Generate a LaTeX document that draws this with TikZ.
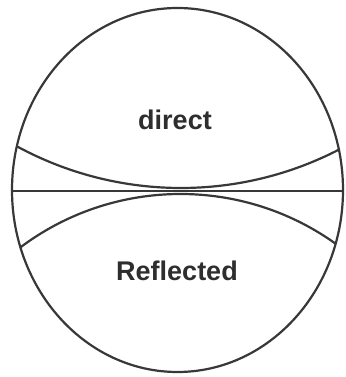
\documentclass[tikz,border=0pt]{standalone}
\usepackage{fontspec}
\setmainfont{Liberation Sans}
\begin{document}
\begin{tikzpicture}[x=1pt,y=1pt,
  ink/.style={draw=black!78,line width=2.2pt},
  lbl/.style={font=\fontsize{27}{30}\selectfont\bfseries,text=black!82,inner sep=0pt}]
\useasboundingbox (0,0) rectangle (345,377);
\fill[white] (0,0) rectangle (345,377);
\coordinate (C) at (177.5,187);
\begin{scope}
  \clip (C) ellipse [x radius=165.5, y radius=182];
  % upper curve
  \draw[ink] (181,533) ++(236:344) arc[start angle=236,end angle=304,radius=344];
  % lower curve
  \draw[ink] (180.5,-83.6) ++(134:266.6) arc[start angle=134,end angle=46,radius=266.6];
\end{scope}
\coordinate (L) at (12,186);
\coordinate (R) at (343,186);
\draw[ink] (L) -- (R);
\draw[ink] (C) ellipse [x radius=165.5, y radius=182];
\node[lbl] (direct) at (175,257) {direct};
\node[lbl] (refl) at (177,106) {Reflected};
\end{tikzpicture}
\end{document}
